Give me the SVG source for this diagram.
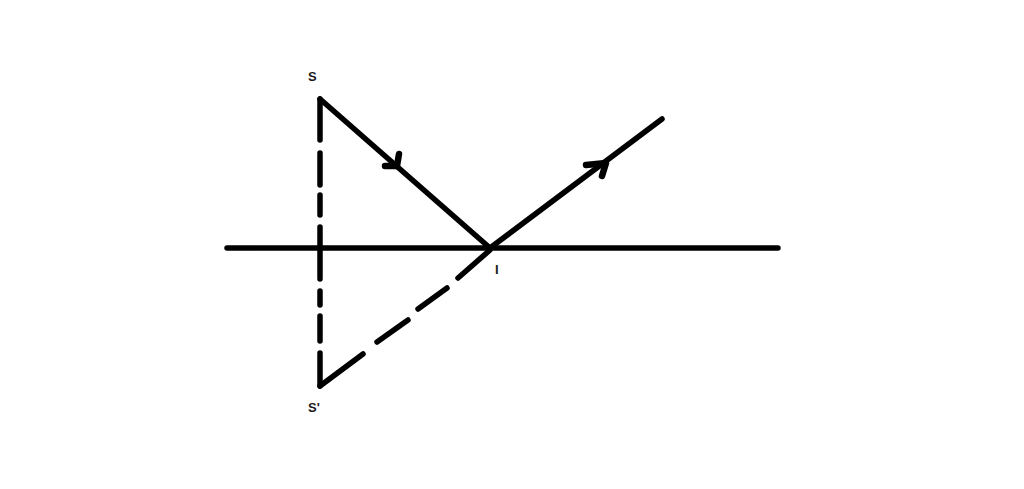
<svg xmlns="http://www.w3.org/2000/svg" width="1024" height="489" viewBox="0 0 1024 489">
<style>
.ln{stroke:#000;stroke-width:5.5;fill:none;stroke-linecap:round;stroke-linejoin:round}
.ah{stroke-width:6.5}
.lbl{font-family:"Liberation Sans",Arial,sans-serif;font-weight:bold;font-size:13px;fill:#1a1a1a}
</style>
<rect width="1024" height="489" fill="#fff"/>
<g id="connectors">
<line class="ln" x1="227" y1="248" x2="778" y2="248"/>
<path class="ln" d="M320 99 V140 M320 153 V185 M320 195 V215 M320 227 V279 M320 291 V305 M320 316 V341 M320 353 V386"/>
<path class="ln" d="M320 386 L363 354 M377 342 L408 320 M418 309 L447 288 M458 278 L490 250"/>
<path class="ln" d="M320 99 L490 248"/>
<path class="ln ah" d="M385 166 L397 166 L399 154"/>
<path class="ln" d="M490 248 L662 119"/>
<path class="ln ah" d="M586 165 L606 163 L602 176"/>
</g>
<g id="node-S"><text class="lbl" x="308" y="81">S</text></g>
<g id="node-Sp"><text class="lbl" x="308" y="412">S'</text></g>
<g id="node-I"><text class="lbl" x="495" y="274">I</text></g>
</svg>
